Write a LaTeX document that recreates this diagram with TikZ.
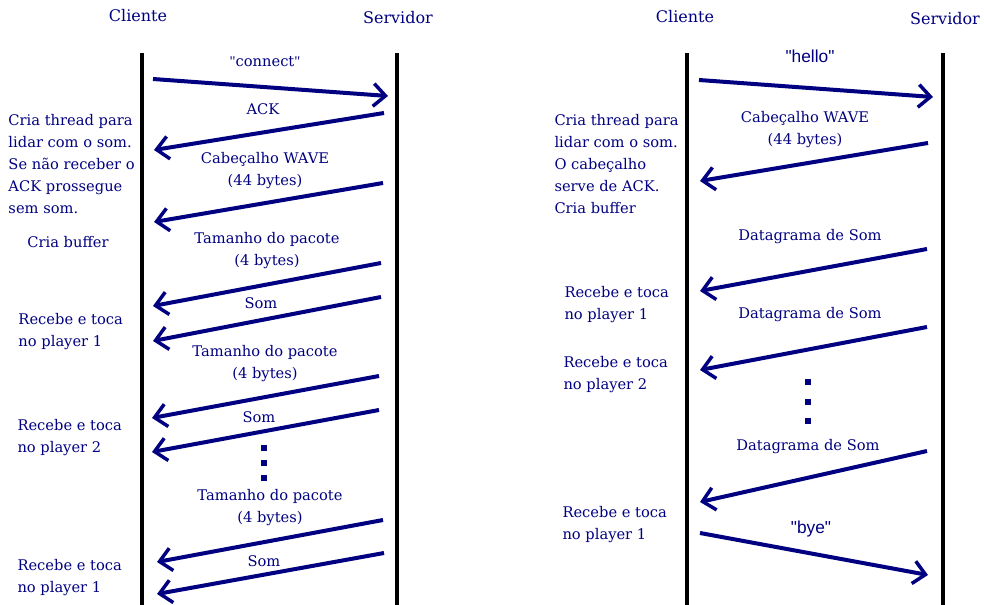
\documentclass[tikz,border=0pt]{standalone}
\usepackage{fontspec}
\setmainfont{DejaVu Serif}
\newfontfamily\quotefont{Liberation Sans}
\newfontfamily\quoteserif{Liberation Serif}
\usetikzlibrary{arrows.meta}
\definecolor{msgblue}{RGB}{0,0,128}
\tikzset{every picture/.style={line width=0.75pt}}
\tikzset{
  lifeline/.style={line width=3pt, color=black},
  msg/.style={line width=3pt, color=msgblue, -{Straight Barb[length=9pt,width=17pt,line width=2.6pt]}},
  lbl/.style={inner sep=0pt, color=msgblue, font=\fontsize{11}{16.5}\selectfont},
  title/.style={inner sep=0pt, color=msgblue, font=\fontsize{12}{14}\selectfont, anchor=base},
  note/.style={lbl, anchor=north west, align=left},
  twoline/.style={lbl, anchor=north, align=center},
  qlbl/.style={inner sep=0pt, color=msgblue, font=\quotefont\fontsize{13}{15}\selectfont, anchor=base},
  dotsq/.style={fill=msgblue, inner sep=0pt, minimum size=4.5pt}
}

\begin{document}
\begin{tikzpicture}[x=0.75pt,y=0.75pt,yscale=-1,xscale=1]
\useasboundingbox (0,0) rectangle (984,605);

%Lifelines
\coordinate (cliA) at (141.5,53);  \coordinate (cliAend) at (141.5,605);
\coordinate (srvA) at (397,53);    \coordinate (srvAend) at (397,605);
\coordinate (cliB) at (687,53);    \coordinate (cliBend) at (687,605);
\coordinate (srvB) at (943,53);    \coordinate (srvBend) at (943,605);
\draw [lifeline] (cliA) -- (cliAend) ;
\draw [lifeline] (srvA) -- (srvAend) ;
\draw [lifeline] (cliB) -- (cliBend) ;
\draw [lifeline] (srvB) -- (srvBend) ;

% Text Node
\node [title] (tCliA) at (138,22) {Cliente};
% Text Node
\node [title] (tSrvA) at (398,24) {Servidor};
% Text Node
\node [title] (tCliB) at (685,23) {Cliente};
% Text Node
\node [title] (tSrvB) at (945,25) {Servidor};

%Straight Lines -- left exchange
\coordinate (a1s) at (153,79);  \coordinate (a1e) at (388,96);
\coordinate (a2s) at (384,113); \coordinate (a2e) at (154,150);
\coordinate (a3s) at (383,183); \coordinate (a3e) at (154,222);
\coordinate (a4s) at (381,263); \coordinate (a4e) at (153,306);
\coordinate (a5s) at (381,297); \coordinate (a5e) at (153,341);
\coordinate (a6s) at (379,376); \coordinate (a6e) at (152,418);
\coordinate (a7s) at (379,410); \coordinate (a7e) at (152,452);
\coordinate (a8s) at (383,520); \coordinate (a8e) at (157,562);
\coordinate (a9s) at (384,553); \coordinate (a9e) at (157,594);
\draw [msg] (a1s) -- (a1e) ;
\draw [msg] (a2s) -- (a2e) ;
\draw [msg] (a3s) -- (a3e) ;
\draw [msg] (a4s) -- (a4e) ;
\draw [msg] (a5s) -- (a5e) ;
\draw [msg] (a6s) -- (a6e) ;
\draw [msg] (a7s) -- (a7e) ;
\draw [msg] (a8s) -- (a8e) ;
\draw [msg] (a9s) -- (a9e) ;

%Straight Lines -- right exchange
\coordinate (b1s) at (699,80);  \coordinate (b1e) at (933,97);
\coordinate (b2s) at (928,143); \coordinate (b2e) at (700,181);
\coordinate (b3s) at (927,249); \coordinate (b3e) at (700,291);
\coordinate (b4s) at (927,327); \coordinate (b4e) at (700,370);
\coordinate (b5s) at (927,451); \coordinate (b5e) at (700,502);
\coordinate (b6s) at (700,533); \coordinate (b6e) at (928,575);
\draw [msg] (b1s) -- (b1e) ;
\draw [msg] (b2s) -- (b2e) ;
\draw [msg] (b3s) -- (b3e) ;
\draw [msg] (b4s) -- (b4e) ;
\draw [msg] (b5s) -- (b5e) ;
\draw [msg] (b6s) -- (b6e) ;

%Dots
\foreach \y [count=\i] in {448,463,478} \node [dotsq] (dotA\i) at (264,\y) {};
\foreach \y [count=\i] in {382,402,421} \node [dotsq] (dotB\i) at (808,\y) {};

% Text Node
\node [lbl,anchor=base] (mConnect) at (265,67) {{\quoteserif"}connect{\quoteserif"}};
% Text Node
\node [lbl,anchor=base] (mAck) at (263,115) {ACK};
% Text Node
\node [twoline] (mWaveA) at (265,152) {Cabeçalho WAVE\\(44 bytes)};
% Text Node
\node [twoline] (mSizeA1) at (267,232) {Tamanho do pacote\\(4 bytes)};
% Text Node
\node [lbl,anchor=base] (mSomA1) at (261,309) {Som};
% Text Node
\node [twoline] (mSizeA2) at (265,345) {Tamanho do pacote\\(4 bytes)};
% Text Node
\node [lbl,anchor=base] (mSomA2) at (259,422) {Som};
% Text Node
\node [twoline] (mSizeA3) at (270,489) {Tamanho do pacote\\(4 bytes)};
% Text Node
\node [lbl,anchor=base] (mSomA3) at (264,566) {Som};

% Text Node
\node [note] (nThreadA) at (8,114) {Cria thread para\\lidar com o som.\\Se não receber o\\ACK prossegue\\sem som.};
% Text Node
\node [lbl,anchor=base] (nBufferA) at (68,248) {Cria buffer};
% Text Node
\node [note] (nPlayA1) at (18,313) {Recebe e toca\\no player 1};
% Text Node
\node [note] (nPlayA2) at (17,419) {Recebe e toca\\no player 2};
% Text Node
\node [note] (nPlayA3) at (17,559) {Recebe e toca\\no player 1};

% Text Node
\node [qlbl] (mHello) at (810,63) {"hello"};
% Text Node
\node [twoline] (mWaveB) at (805,111) {Cabeçalho WAVE\\(44 bytes)};
% Text Node
\node [lbl,anchor=base] (mDgB1) at (810,241) {Datagrama de Som};
% Text Node
\node [lbl,anchor=base] (mDgB2) at (810,319) {Datagrama de Som};
% Text Node
\node [lbl,anchor=base] (mDgB3) at (808,450) {Datagrama de Som};
% Text Node
\node [qlbl] (mBye) at (811,533) {"bye"};

% Text Node
\node [note] (nThreadB) at (554,114) {Cria thread para\\lidar com o som.\\O cabeçalho\\serve de ACK.\\Cria buffer};
% Text Node
\node [note] (nPlayB1) at (564,286) {Recebe e toca\\no player 1};
% Text Node
\node [note] (nPlayB2) at (563,356) {Recebe e toca\\no player 2};
% Text Node
\node [note] (nPlayB3) at (562,506) {Recebe e toca\\no player 1};

\end{tikzpicture}
\end{document}
